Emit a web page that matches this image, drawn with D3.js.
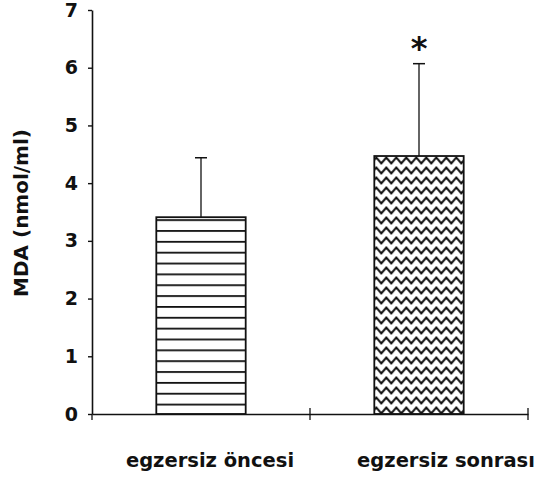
<!DOCTYPE html>
<html><head><meta charset="utf-8">
<script src="https://cdn.jsdelivr.net/npm/d3@7/dist/d3.min.js"></script>
<style>
html,body{margin:0;padding:0;background:#fff;}
text{font-family:"DejaVu Sans",sans-serif;fill:#111;}
</style></head>
<body><svg id="chart" width="537" height="479"></svg>
<script>
const categories = ["egzersiz öncesi", "egzersiz sonrası"];
const means = [3.41, 4.47];
const errors = [1.03, 1.60];
const significance = ["", "*"];
const yTicks = [0, 1, 2, 3, 4, 5, 6, 7];
const yLabel = "MDA (nmol/ml)";

const svg = d3.select("#chart");
const m = {left: 92, right: 9, top: 10, bottom: 65};
const W = 537, H = 479;
const x = d3.scaleBand().domain(categories).range([m.left, W - m.right]).paddingInner(0.59).paddingOuter(0.295);
const xb = d3.scaleBand().domain(categories).range([m.left, W - m.right]);
const y = d3.scaleLinear().domain([0, 7]).range([H - m.bottom, m.top]);

const defs = svg.append("defs");
const p1 = defs.append("pattern").attr("id", "hlines").attr("patternUnits", "userSpaceOnUse")
  .attr("width", 10).attr("height", 10.85).attr("y", y(0) + 0.5);
p1.append("rect").attr("width", 10).attr("height", 10.85).attr("fill", "#fff");
p1.append("line").attr("x1", 0).attr("x2", 10).attr("y1", 0).attr("y2", 0).attr("stroke", "#111").attr("stroke-width", 3.6);

const p2 = defs.append("pattern").attr("id", "zigzag").attr("patternUnits", "userSpaceOnUse")
  .attr("width", 20).attr("height", 10).attr("x", x(categories[1]) + 2).attr("y", y(0) + 2);
p2.append("rect").attr("width", 20).attr("height", 10).attr("fill", "#fff");
p2.append("path").attr("d", "M-5,7.5 L0,1.5 L5,7.5 L10,1.5 L15,7.5 L20,1.5 L25,7.5")
  .attr("fill", "none").attr("stroke", "#111").attr("stroke-width", 2).attr("stroke-linejoin", "miter");

const fills = ["url(#hlines)", "url(#zigzag)"];

// bars
svg.selectAll("rect.bar").data(categories).join("rect").attr("class", "bar")
  .attr("x", d => x(d)).attr("width", x.bandwidth())
  .attr("y", (d, i) => y(means[i])).attr("height", (d, i) => y(0) - y(means[i]))
  .attr("fill", (d, i) => fills[i]).attr("stroke", "#111").attr("stroke-width", 1.8);

// error bars
const cx = d => x(d) + x.bandwidth() / 2;
svg.selectAll("line.err").data(categories).join("line").attr("class", "err")
  .attr("x1", cx).attr("x2", cx)
  .attr("y1", (d, i) => y(means[i])).attr("y2", (d, i) => y(means[i] + errors[i]))
  .attr("stroke", "#111").attr("stroke-width", 1.3);
svg.selectAll("line.cap").data(categories).join("line").attr("class", "cap")
  .attr("x1", d => cx(d) - 6).attr("x2", d => cx(d) + 6)
  .attr("y1", (d, i) => y(means[i] + errors[i])).attr("y2", (d, i) => y(means[i] + errors[i]))
  .attr("stroke", "#111").attr("stroke-width", 1.5);

// significance
svg.selectAll("text.sig").data(categories).join("text").attr("class", "sig")
  .attr("x", cx).attr("y", (d, i) => y(means[i] + errors[i]) - 5)
  .attr("text-anchor", "middle").attr("font-size", 32).attr("font-weight", "bold")
  .text((d, i) => significance[i]);

// y axis
const ya = svg.append("g").attr("transform", `translate(${m.left},0)`)
  .call(d3.axisLeft(y).tickValues(yTicks).tickSize(4).tickSizeOuter(0).tickPadding(10).tickFormat(d3.format("d")));
ya.select(".domain").attr("stroke", "#111").attr("stroke-width", 1.6);
ya.selectAll(".tick line").attr("stroke", "#111").attr("stroke-width", 1.4);
ya.selectAll(".tick text").attr("font-size", 19).attr("font-weight", "bold").attr("font-family", "DejaVu Sans").attr("fill", "#111");

// x axis
const xa = svg.append("g").attr("transform", `translate(0,${y(0)})`)
  .call(d3.axisBottom(xb).tickSize(0).tickFormat(""));
xa.select(".domain").attr("stroke", "#111").attr("stroke-width", 1.6);
xa.selectAll(".tick").remove();
xa.selectAll("line.xt").data(categories).join("line").attr("class", "xt")
  .attr("x1", d => xb(d) + xb.bandwidth()).attr("x2", d => xb(d) + xb.bandwidth())
  .attr("y1", -6).attr("y2", 6).attr("stroke", "#111").attr("stroke-width", 1.3);
xa.append("line").attr("x1", m.left).attr("x2", m.left).attr("y1", 0).attr("y2", 6)
  .attr("stroke", "#111").attr("stroke-width", 1.3);

// x labels
const labelDx = [9, 27];
svg.selectAll("text.xl").data(categories).join("text").attr("class", "xl")
  .attr("x", (d, i) => xb(d) + xb.bandwidth() / 2 + labelDx[i]).attr("y", H - 12)
  .attr("text-anchor", "middle").attr("font-size", 19.5).attr("font-weight", "bold")
  .text(d => d);

// y label
svg.append("text").attr("transform", `translate(28,${(y(0) + y(7)) / 2 + 1}) rotate(-90)`)
  .attr("text-anchor", "middle").attr("font-size", 20).attr("font-weight", "bold").text(yLabel);
</script></body></html>
